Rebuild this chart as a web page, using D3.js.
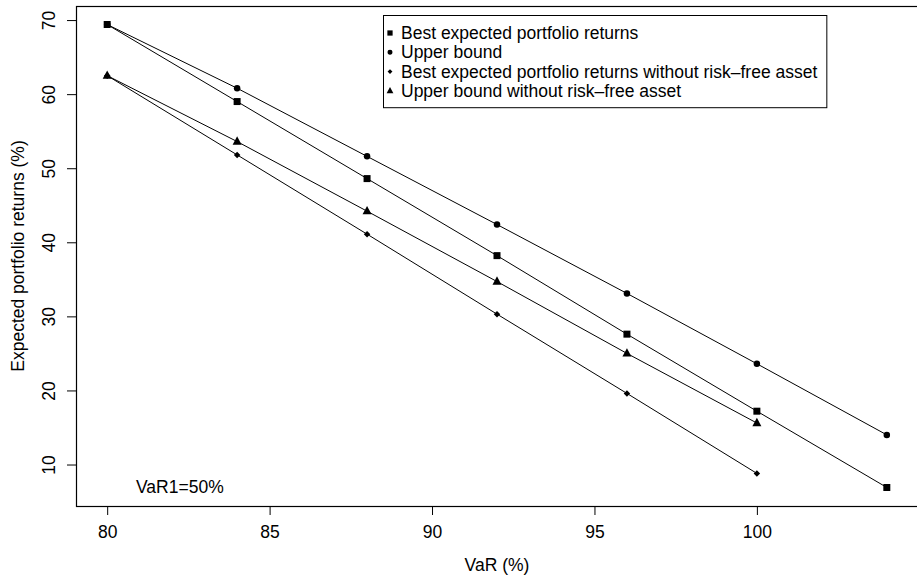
<!DOCTYPE html>
<html>
<head>
<meta charset="utf-8">
<script src="https://cdnjs.cloudflare.com/ajax/libs/d3/7.8.5/d3.min.js"></script>
<style>
  body { margin: 0; background: #fff; }
  text { font-family: "Liberation Sans", Arial, Helvetica, sans-serif; fill: #000; }
</style>
</head>
<body>
<div id="chart"></div>
<script>
// values
var varLevels = [80, 84, 88, 92, 96, 100, 104];
var bestReturns = [69.4, 59.0, 48.6, 38.2, 27.6, 17.2, 6.9];
var upperBound = [69.4, 60.8, 51.6, 42.4, 33.1, 23.6, 14.0];
var bestNoRiskFree = [62.5, 51.8, 41.1, 30.3, 19.6, 8.8];
var upperNoRiskFree = [62.5, 53.6, 44.2, 34.7, 25.0, 15.6];
var xTicks = [80, 85, 90, 95, 100];
var yTicks = [10, 20, 30, 40, 50, 60, 70];
var legendLabels = [
    "Best expected portfolio returns",
    "Upper bound",
    "Best expected portfolio returns without risk\u2013free asset",
    "Upper bound without risk\u2013free asset"
];

var W = 917, H = 577;
var fontSize = 17.5;
var margin = { top: 6, right: -1, bottom: 71, left: 76 };

var svg = d3.select("#chart").append("svg")
    .attr("width", W)
    .attr("height", H);

// R-style 4% padding on both axes
var x = d3.scaleLinear().domain([79.04, 104.96]).range([margin.left, W - margin.right]);
var y = d3.scaleLinear().domain([4.4, 71.9]).range([H - margin.bottom, margin.top]);

var series = [
    { name: legendLabels[0], values: bestReturns, shape: "square" },
    { name: legendLabels[1], values: upperBound, shape: "circle" },
    { name: legendLabels[2], values: bestNoRiskFree, shape: "diamond" },
    { name: legendLabels[3], values: upperNoRiskFree, shape: "triangle" }
];

// pch 15 / 16 / 18 / 17 look-alikes
function symbolPath(shape, s) {
    var h = s / 2;
    if (shape == "square") return "M" + (-h) + "," + (-h) + "H" + h + "V" + h + "H" + (-h) + "Z";
    if (shape == "circle") return d3.symbol(d3.symbolCircle, Math.PI * h * h)();
    if (shape == "diamond") return "M0," + (-h) + "L" + h + ",0L0," + h + "L" + (-h) + ",0Z";
    var t = s * 0.58;
    return "M0," + (-t) + "L" + (s / 2) + "," + (t * 0.6) + "L" + (-s / 2) + "," + (t * 0.6) + "Z";
}
var markSize = { square: 7, circle: 6.5, diamond: 6.5, triangle: 9 };

// lines
var line = d3.line()
    .x(function(d, i) { return x(varLevels[i]); })
    .y(function(d) { return y(d); });

svg.selectAll(".series-line")
    .data(series)
    .enter().append("path")
    .attr("class", "series-line")
    .attr("d", function(d) { return line(d.values); })
    .attr("fill", "none")
    .attr("stroke", "#000")
    .attr("stroke-width", 1);

// points
series.forEach(function(s) {
    svg.selectAll(".pt-" + s.shape)
        .data(s.values)
        .enter().append("path")
        .attr("class", "pt-" + s.shape)
        .attr("transform", function(d, i) {
            return "translate(" + x(varLevels[i]) + "," + y(d) + ")";
        })
        .attr("d", symbolPath(s.shape, markSize[s.shape]))
        .attr("fill", "#000");
});

// plot box (right edge runs just past the picture, as in the original)
svg.append("rect")
    .attr("x", margin.left + 0.5)
    .attr("y", margin.top + 0.5)
    .attr("width", W + 10 - margin.left)
    .attr("height", H - margin.bottom - margin.top)
    .attr("fill", "none")
    .attr("stroke", "#000")
    .attr("stroke-width", 1.2);

// x axis
var xAxis = svg.append("g")
    .attr("transform", "translate(0," + (H - margin.bottom) + ")")
    .call(d3.axisBottom(x).tickValues(xTicks).tickSize(9).tickFormat(d3.format("d")));
xAxis.select(".domain").remove();
xAxis.selectAll("line").attr("stroke", "#000");
xAxis.selectAll("text")
    .attr("y", 32)
    .attr("dy", 0)
    .style("font-size", fontSize + "px")
    .style("font-family", "'Liberation Sans', Arial, sans-serif");

// y axis
var yAxis = svg.append("g")
    .attr("transform", "translate(" + margin.left + ",0)")
    .call(d3.axisLeft(y).tickValues(yTicks).tickSize(9).tickFormat(d3.format("d")));
yAxis.select(".domain").remove();
yAxis.selectAll("line").attr("stroke", "#000");
yAxis.selectAll("text")
    .attr("x", 0)
    .attr("dy", 0)
    .attr("text-anchor", "middle")
    .attr("transform", "translate(-21,0) rotate(-90)")
    .style("font-size", fontSize + "px")
    .style("font-family", "'Liberation Sans', Arial, sans-serif");

// axis titles
svg.append("text")
    .attr("x", (margin.left + W - margin.right) / 2)
    .attr("y", 571)
    .attr("text-anchor", "middle")
    .style("font-size", fontSize + "px")
    .text("VaR (%)");

svg.append("text")
    .attr("transform", "translate(24," + ((margin.top + H - margin.bottom) / 2) + ") rotate(-90)")
    .attr("text-anchor", "middle")
    .style("font-size", fontSize + "px")
    .text("Expected portfolio returns (%)");

// annotation
svg.append("text")
    .attr("x", 136)
    .attr("y", 493)
    .style("font-size", fontSize + "px")
    .text("VaR1=50%");

// legend
var legend = svg.append("g").attr("class", "legend");
var legLeft = 383, legTop = 15, rowH = 19.3, symX = 390, txtX = 401;
var legBox = legend.append("rect")
    .attr("x", legLeft + 0.5)
    .attr("y", legTop + 0.5)
    .attr("fill", "#fff")
    .attr("stroke", "#000")
    .attr("stroke-width", 1);

var rows = legend.selectAll(".row")
    .data(series)
    .enter().append("g")
    .attr("class", "row")
    .attr("transform", function(d, i) { return "translate(0," + (legTop + 18 + i * rowH) + ")"; });

rows.append("path")
    .attr("transform", "translate(" + symX + ",0)")
    .attr("d", function(d) { return symbolPath(d.shape, markSize[d.shape] * 0.75); })
    .attr("fill", "#000");

rows.append("text")
    .attr("x", txtX)
    .attr("y", 6)
    .style("font-size", fontSize + "px")
    .text(function(d) { return d.name; });

var maxW = d3.max(rows.selectAll("text").nodes(), function(n) { return n.getComputedTextLength(); });
legBox.attr("width", txtX + maxW + 9 - legLeft)
    .attr("height", 4 * rowH + 15);
</script>
</body>
</html>
